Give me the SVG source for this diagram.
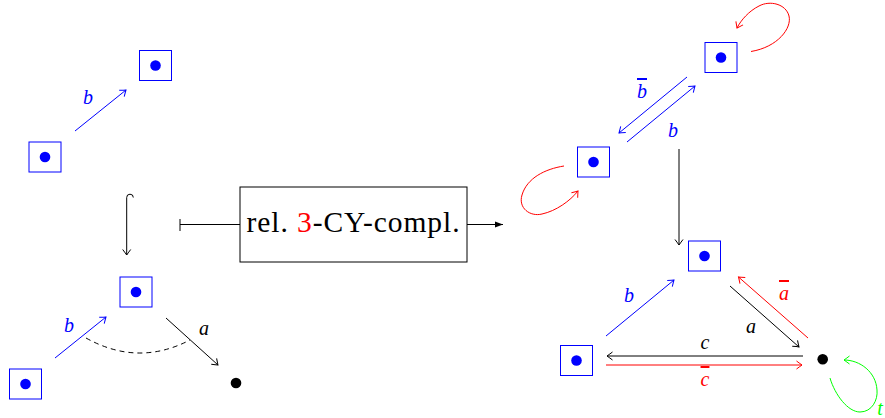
<svg xmlns="http://www.w3.org/2000/svg" width="885" height="418" viewBox="0 0 885 418">
<style>
.box{fill:#fff;stroke:#0000ff;stroke-width:1}
.dotb{fill:#0000ff}
.dotk{fill:#000}
.ln{fill:none;stroke-width:1}
.k{stroke:#000}
.b{stroke:#0000ff}
.r{stroke:#ff0000}
.g{stroke:#00ff00}
.lbl{font-family:"Liberation Serif","Times New Roman",serif;font-style:italic;font-size:20px;text-anchor:middle}
.ov{text-decoration:overline}
</style>
<defs>
<marker id="ak" markerUnits="userSpaceOnUse" markerWidth="14" markerHeight="14" viewBox="-7 -7 14 14" refX="0" refY="0" orient="auto"><path d="M -5.5 -4 Q -1.5 -1 0 0 Q -1.5 1 -5.5 4" fill="none" stroke="#000" stroke-width="1"/></marker>
<marker id="ab" markerUnits="userSpaceOnUse" markerWidth="14" markerHeight="14" viewBox="-7 -7 14 14" refX="0" refY="0" orient="auto"><path d="M -5.5 -4 Q -1.5 -1 0 0 Q -1.5 1 -5.5 4" fill="none" stroke="#0000ff" stroke-width="1"/></marker>
<marker id="ar" markerUnits="userSpaceOnUse" markerWidth="14" markerHeight="14" viewBox="-7 -7 14 14" refX="0" refY="0" orient="auto"><path d="M -5.5 -4 Q -1.5 -1 0 0 Q -1.5 1 -5.5 4" fill="none" stroke="#ff0000" stroke-width="1"/></marker>
<marker id="ag" markerUnits="userSpaceOnUse" markerWidth="14" markerHeight="14" viewBox="-7 -7 14 14" refX="0" refY="0" orient="auto"><path d="M -5.5 -4 Q -1.5 -1 0 0 Q -1.5 1 -5.5 4" fill="none" stroke="#00ff00" stroke-width="1"/></marker>
<marker id="tri" markerUnits="userSpaceOnUse" markerWidth="12" markerHeight="12" viewBox="-10 -6 12 12" refX="0" refY="0" orient="auto"><path d="M 0 0 L -8 -3 L -8 3 Z" fill="#000"/></marker>
</defs>

<g id="connectors">
  <line class="ln b" x1="75" y1="131" x2="126" y2="90" marker-end="url(#ab)"/>
  <text class="lbl" x="88" y="104" fill="#0000ff">b</text>
  <path class="ln k" d="M 133.3 197.5 A 3.3 3.3 0 0 0 126.7 197.5 L 126.7 255" marker-end="url(#ak)"/>
  <line class="ln b" x1="55" y1="358" x2="106" y2="317" marker-end="url(#ab)"/>
  <text class="lbl" x="69" y="332" fill="#0000ff">b</text>
  <line class="ln k" x1="166" y1="318" x2="218" y2="365" marker-end="url(#ak)"/>
  <text class="lbl" x="204" y="335" fill="#000">a</text>
  <path class="ln k" d="M 86 338 Q 138 367 190 340" stroke-dasharray="5 4"/>
  <line class="ln k" x1="180" y1="224.5" x2="240" y2="224.5"/>
  <line class="ln k" x1="180" y1="219" x2="180" y2="231"/>
  <line class="ln k" x1="467" y1="224.5" x2="503" y2="224.5" marker-end="url(#tri)"/>
  <line class="ln b" x1="687" y1="77" x2="619" y2="133" marker-end="url(#ab)"/>
  <line class="ln b" x1="627" y1="142" x2="695" y2="86" marker-end="url(#ab)"/>
  <text class="lbl ov" x="642" y="98" fill="#0000ff">b</text>
  <text class="lbl" x="673" y="136.5" fill="#0000ff">b</text>
  <path class="ln r" d="M 751 51.5 C 778 47, 792 28, 789 16 C 786 4, 770 0, 759 6 C 749 11, 741 20, 737 28" marker-end="url(#ar)"/>
  <path class="ln r" d="M 564 166 C 545 169, 527 178, 522 195 C 518 208, 530 217, 542 214 C 556 211, 570 201, 578 191" marker-end="url(#ar)"/>
  <line class="ln k" x1="679" y1="149" x2="679" y2="245" marker-end="url(#ak)"/>
  <line class="ln b" x1="606" y1="336" x2="674" y2="280" marker-end="url(#ab)"/>
  <text class="lbl" x="629" y="301.5" fill="#0000ff">b</text>
  <line class="ln k" x1="730" y1="286" x2="799" y2="347" marker-end="url(#ak)"/>
  <text class="lbl" x="751" y="333" fill="#000">a</text>
  <line class="ln r" x1="808" y1="338" x2="738.5" y2="277" marker-end="url(#ar)"/>
  <text class="lbl ov" x="784" y="300" fill="#ff0000">a</text>
  <line class="ln k" x1="803" y1="356" x2="607" y2="356" marker-end="url(#ak)"/>
  <text class="lbl" x="705" y="349" fill="#000">c</text>
  <line class="ln r" x1="606" y1="365" x2="802" y2="365" marker-end="url(#ar)"/>
  <text class="lbl ov" x="705" y="386" fill="#ff0000">c</text>
  <path class="ln g" d="M 830 378 C 835 395, 848 412, 860 412 C 872 412, 878 400, 877 390 C 876 372, 860 360, 844 360" marker-end="url(#ag)"/>
  <text class="lbl" x="880" y="415" fill="#00ff00">t</text>
</g>

<g id="n1"><rect class="box" x="29" y="142" width="32" height="30"/><circle class="dotb" cx="45" cy="157" r="5.3"/></g>
<g id="n2"><rect class="box" x="139.5" y="50.5" width="32" height="30"/><circle class="dotb" cx="155.5" cy="65.5" r="5.3"/></g>
<g id="n3"><rect class="box" x="120" y="277" width="32" height="30"/><circle class="dotb" cx="136" cy="292" r="5.3"/></g>
<g id="n4"><rect class="box" x="9.5" y="369" width="32" height="30"/><circle class="dotb" cx="25.5" cy="384" r="5.3"/></g>
<g id="n5"><circle class="dotk" cx="236" cy="383" r="5.3"/></g>
<g id="proc">
  <rect x="240" y="187" width="227" height="75" fill="#fff" stroke="#000" stroke-width="1"/>
  <text x="246.5" y="232" font-family="'Liberation Serif','Times New Roman',serif" font-size="29.5" textLength="213" lengthAdjust="spacing" fill="#000">rel.  <tspan fill="#ff0000">3</tspan>-CY-compl.</text>
</g>
<g id="n6"><rect class="box" x="705" y="42.5" width="32" height="30"/><circle class="dotb" cx="721" cy="57.5" r="5.3"/></g>
<g id="n7"><rect class="box" x="577.5" y="147" width="32" height="30"/><circle class="dotb" cx="593.5" cy="162" r="5.3"/></g>
<g id="n8"><rect class="box" x="688.5" y="241" width="32" height="30"/><circle class="dotb" cx="704.5" cy="256" r="5.3"/></g>
<g id="n9"><rect class="box" x="560.5" y="345.5" width="32" height="30"/><circle class="dotb" cx="576.5" cy="360.5" r="5.3"/></g>
<g id="n10"><circle class="dotk" cx="822.7" cy="359.3" r="5.3"/></g>
</svg>
